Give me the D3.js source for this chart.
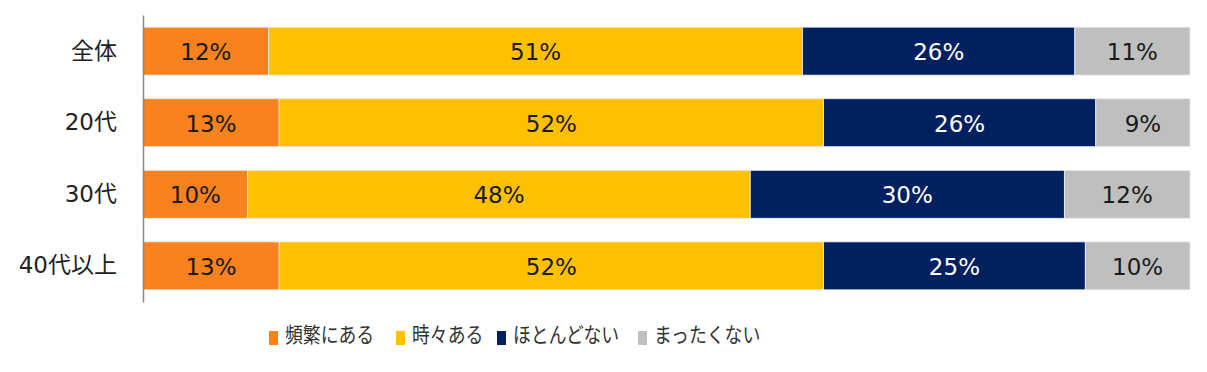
<!DOCTYPE html>
<html><head><meta charset="utf-8">
<script src="https://cdn.jsdelivr.net/npm/d3@7"></script>
<style>
html,body{margin:0;padding:0;background:#fff;}
svg{display:block;}
text{font-family:"DejaVu Sans","Noto Sans CJK JP",sans-serif;}
</style></head>
<body><svg id="c" width="1207" height="372"></svg>
<script>
const categories = ["全体", "20代", "30代", "40代以上"];
const seriesNames = ["頻繁にある", "時々ある", "ほとんどない", "まったくない"];
const frequent = [12, 13, 10, 13];
const sometimes = [51, 52, 48, 52];
const rarely = [26, 26, 30, 25];
const never = [11, 9, 12, 10];
const colors = ["#F7821E", "#FFC000", "#002060", "#BFBFBF"];
const labelColors = ["#1a1a1a", "#1a1a1a", "#ffffff", "#1a1a1a"];

const seriesVals = [frequent, sometimes, rarely, never];
const rows = categories.map((c, i) => {
  const o = {cat: c};
  seriesNames.forEach((s, j) => o[s] = seriesVals[j][i]);
  return o;
});
const stacked = d3.stack().keys(seriesNames)(rows);

const svg = d3.select("#c");
const mLeft = 143, mRight = 1190, mTop = 15, mBottom = 302;
const x = d3.scaleLinear().domain([0, 100]).range([mLeft, mRight]);
const y = d3.scaleBand().domain(categories).range([mTop, mBottom]).paddingInner(0.33).paddingOuter(0.17);

const g = svg.append("g");
stacked.forEach((layer, j) => {
  const lg = g.append("g");
  lg.selectAll("rect").data(layer).join("rect")
    .attr("x", d => x(d[0]))
    .attr("y", d => y(d.data.cat))
    .attr("width", d => x(d[1]) - x(d[0]))
    .attr("height", y.bandwidth())
    .attr("fill", colors[j])
    .attr("stroke", "#e8ecf2").attr("stroke-width", 0.8);
  lg.selectAll("text").data(layer).join("text")
    .attr("x", d => (x(d[0]) + x(d[1])) / 2)
    .attr("y", d => y(d.data.cat) + y.bandwidth() / 2 + 1)
    .attr("text-anchor", "middle").attr("dominant-baseline", "central")
    .attr("font-size", 23).attr("fill", labelColors[j])
    .text(d => (d[1] - d[0]) + "%");
});

// axis
const sx = 0.85;
const yAxis = d3.axisLeft(y).tickSize(0).tickPadding(26);
const ag = svg.append("g").attr("transform", `translate(${mLeft},0)`).call(yAxis);
ag.select(".domain").attr("stroke", "#888").attr("stroke-width", 1.5);
ag.selectAll(".tick text").attr("font-size", 23).attr("fill", "#222")
  .style("font-family", '"DejaVu Sans","Noto Sans CJK JP",sans-serif');

// legend
const legendX = [269, 396, 497, 638];
const lgd = svg.append("g");
seriesNames.forEach((s, j) => {
  lgd.append("rect").attr("x", legendX[j]).attr("y", 331).attr("width", 9).attr("height", 14).attr("fill", colors[j]);
  lgd.append("text")
    .attr("transform", `translate(${legendX[j] + 16},335) scale(${sx},1)`)
    .attr("dominant-baseline", "central").attr("font-size", 21).attr("fill", "#333").text(s);
});
</script></body></html>
